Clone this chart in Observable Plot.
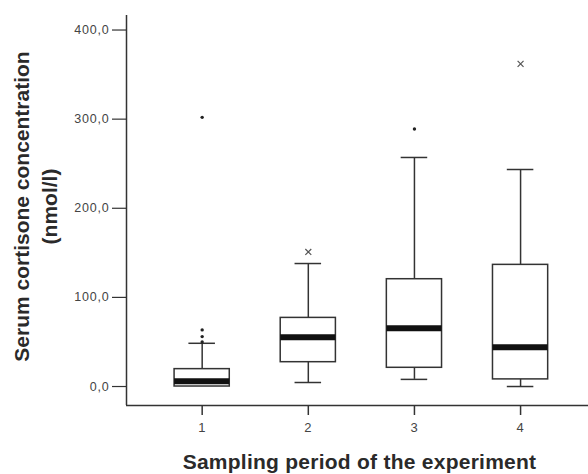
<!DOCTYPE html>
<html>
<head>
<meta charset="utf-8">
<script src="https://cdn.jsdelivr.net/npm/d3@7"></script>
<script src="https://cdn.jsdelivr.net/npm/@observablehq/plot@0.6"></script>
<style>
  html, body { margin: 0; padding: 0; background: #fff; }
  #chart { width: 588px; height: 474px; }
</style>
</head>
<body>
<div id="chart"></div>
<script>
// ---- data ----
const periods = [1, 2, 3, 4];
const whiskerLow = [0, 4.5, 8, 0];
const q1 = [0, 27.3, 21, 8];
const median = [6, 55.3, 65.4, 44];
const q3 = [19.5, 77, 120.4, 136.5];
const whiskerHigh = [48.5, 138, 257, 243.5];

const outlierPeriod = [1, 1, 1, 1, 3];
const outlierValue = [50, 56, 63.5, 302, 289];

const extremePeriod = [2, 4];
const extremeValue = [151, 362];

const yTicks = [0, 100, 200, 300, 400];
const xLabel = "Sampling period of the experiment";
const yLabel1 = "Serum cortisone concentration";
const yLabel2 = "(nmol/l)";

// ---- build tables ----
const boxes = periods.map((p, i) => ({
  p, lo: whiskerLow[i], q1: q1[i], med: median[i], q3: q3[i], hi: whiskerHigh[i]
}));
const outliers = outlierPeriod.map((p, i) => ({p, v: outlierValue[i]}));
const extremes = extremePeriod.map((p, i) => ({p, v: extremeValue[i]}));

const xDomain = [0.287, 4.64];
const yDomain = [-21.3, 416.3];
const BOX = 0.26, CAP = 0.125;
const ink = "#333";
const font = "'Liberation Sans', Arial, sans-serif";

const chart = Plot.plot({
  width: 588,
  height: 474,
  marginLeft: 126,
  marginRight: 0,
  marginTop: 15,
  marginBottom: 69,
  style: {fontFamily: font, color: ink, background: "#fff"},
  x: {domain: xDomain},
  y: {domain: yDomain},
  marks: [
    Plot.axisX({ticks: periods, tickFormat: d => String(d), tickSize: 10, tickPadding: 7,
      fontSize: 13, label: null, stroke: ink, strokeWidth: 1.5, fill: "#444"}),
    Plot.axisY({ticks: yTicks, tickFormat: d => d.toFixed(1).replace(".", ","), tickSize: 14,
      tickPadding: 3, fontSize: 12.5, label: null, stroke: ink, strokeWidth: 1.2, fill: "#444"}),
    Plot.ruleX([xDomain[0]], {stroke: ink, strokeWidth: 1.5}),
    Plot.ruleY([yDomain[0]], {stroke: ink, strokeWidth: 1.5}),
    // whiskers
    Plot.ruleX(boxes, {x: "p", y1: "q3", y2: "hi", stroke: ink, strokeWidth: 1.5}),
    Plot.ruleX(boxes.filter(d => d.lo < d.q1), {x: "p", y1: "lo", y2: "q1", stroke: ink, strokeWidth: 1.5}),
    Plot.ruleY(boxes, {x1: d => d.p - CAP, x2: d => d.p + CAP, y: "hi", stroke: ink, strokeWidth: 1.5}),
    Plot.ruleY(boxes.filter(d => d.lo < d.q1), {x1: d => d.p - CAP, x2: d => d.p + CAP, y: "lo", stroke: ink, strokeWidth: 1.5}),
    // boxes
    Plot.rect(boxes, {x1: d => d.p - BOX, x2: d => d.p + BOX, y1: "q1", y2: "q3",
      fill: "#fff", stroke: ink, strokeWidth: 1.5}),
    Plot.ruleY(boxes, {x1: d => d.p - BOX, x2: d => d.p + BOX, y: "med", stroke: "#111", strokeWidth: 6}),
    // outliers and extremes
    Plot.dot(outliers, {x: "p", y: "v", r: 1.7, fill: "#222", stroke: null}),
    Plot.dot(extremes, {x: "p", y: "v", symbol: "times", r: 2.8, stroke: "#555", strokeWidth: 1.2}),
    // axis titles
    Plot.text([xLabel], {text: d => d, frameAnchor: "bottom", textAnchor: "middle", lineAnchor: "middle",
      dx: 2, dy: 57, fontSize: 21, fontWeight: "bold", fill: "#2a2a2a"}),
    Plot.text([yLabel1], {text: d => d, frameAnchor: "left", textAnchor: "middle", lineAnchor: "middle",
      rotate: -90, dx: -104, dy: -4, fontSize: 21, fontWeight: "bold", fill: "#2a2a2a"}),
    Plot.text([yLabel2], {text: d => d, frameAnchor: "left", textAnchor: "middle", lineAnchor: "middle",
      rotate: -90, dx: -76, dy: -4, fontSize: 21, fontWeight: "bold", fill: "#2a2a2a"})
  ]
});

chart.querySelectorAll('[aria-label="y-axis tick label"], [aria-label="x-axis tick label"]')
  .forEach(g => g.style.letterSpacing = "0.8px");
chart.querySelectorAll("text").forEach(t => {
  if (t.textContent === xLabel) t.style.letterSpacing = "0.25px";
});
document.getElementById("chart").appendChild(chart);
</script>
</body>
</html>
